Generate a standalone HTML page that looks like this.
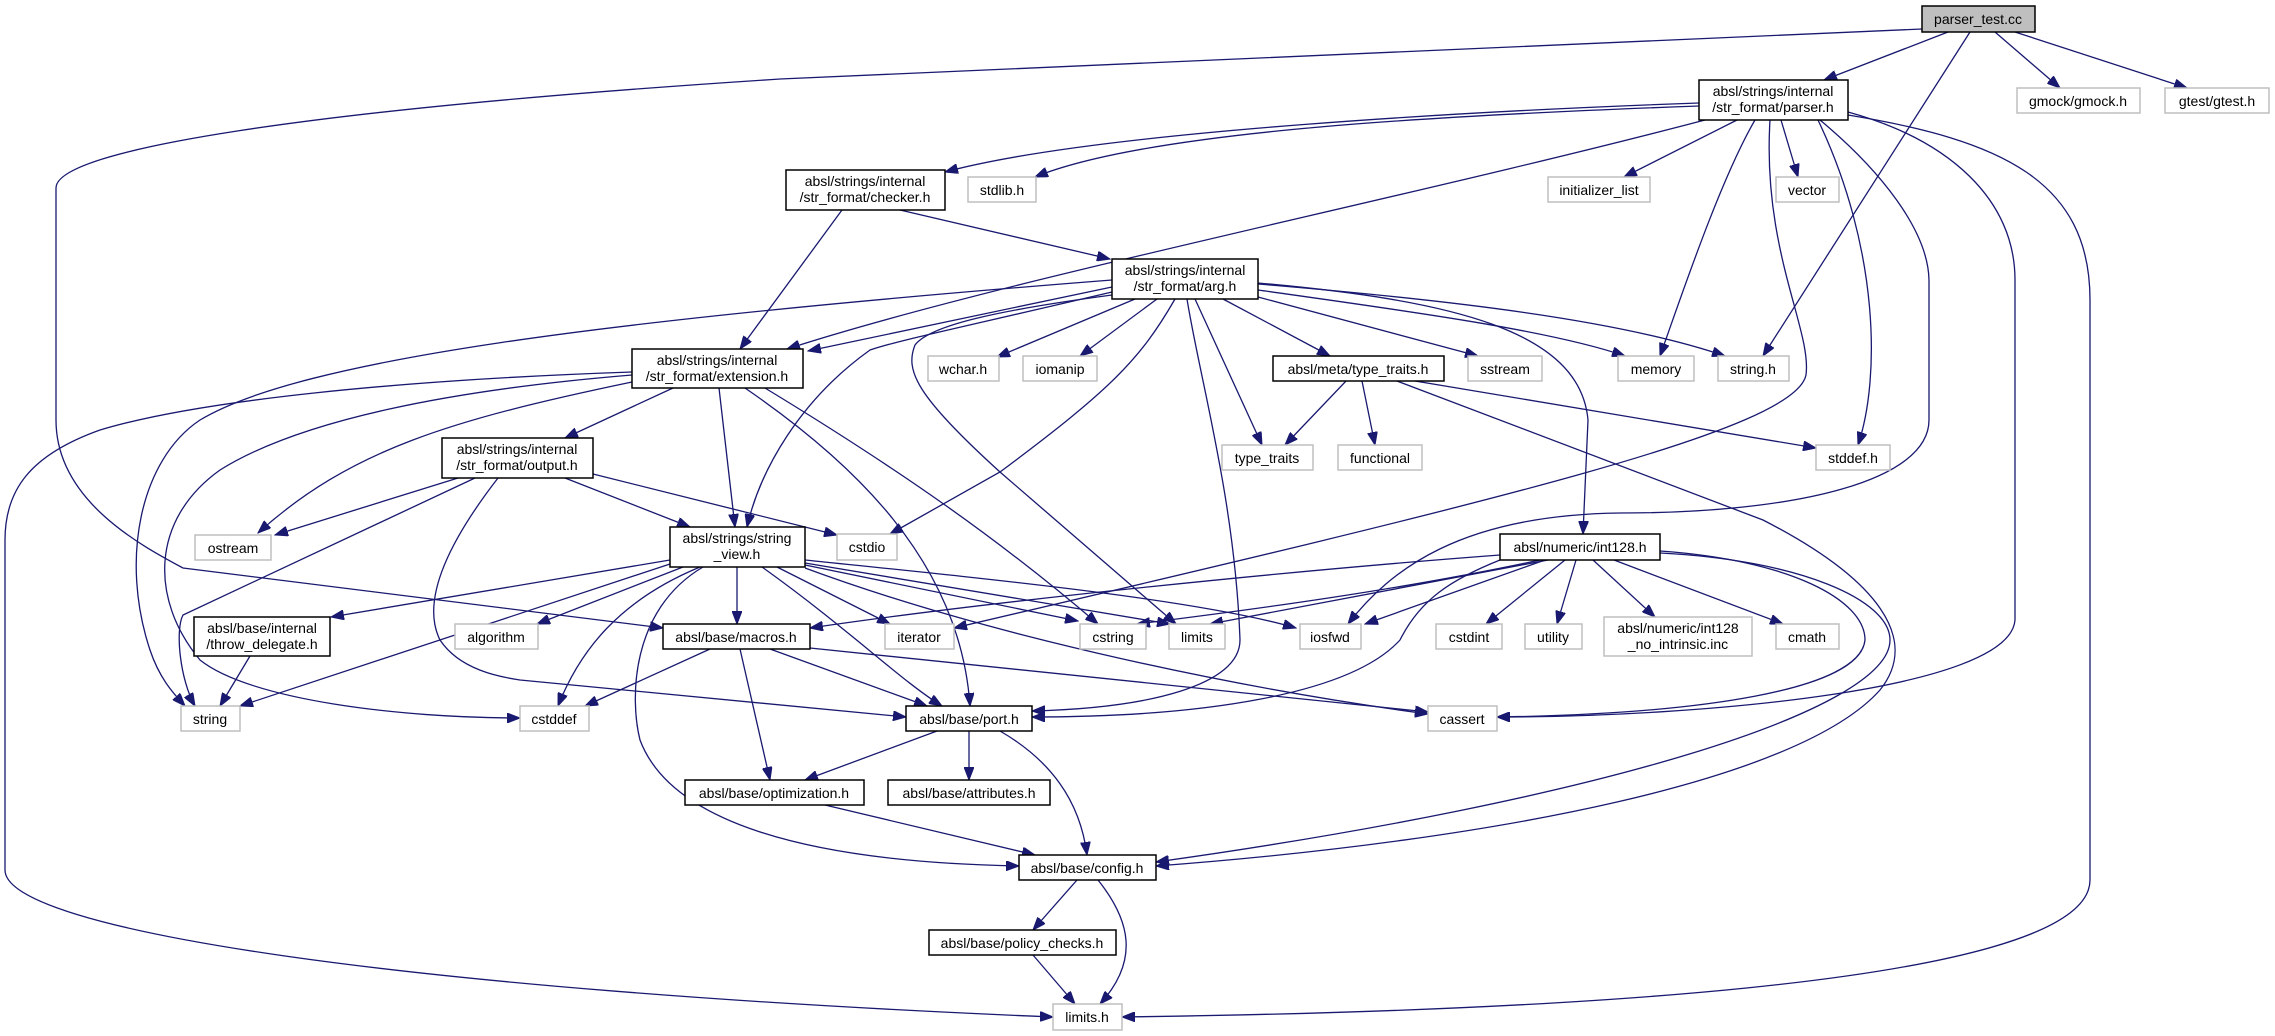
<!DOCTYPE html>
<html><head><meta charset="utf-8"><style>
html,body{margin:0;padding:0;background:#fff;}
svg{display:block;}
text{font-family:"Liberation Sans","DejaVu Sans",sans-serif;font-size:14px;fill:#000;text-anchor:middle;}
.e{fill:none;stroke:#191970;stroke-width:1.3;marker-end:url(#a);}
.d{fill:#fff;stroke:#000;stroke-width:1.5;}
.g{fill:#fff;stroke:#bfbfbf;stroke-width:1.5;}
</style></head><body>
<svg width="2275" height="1036" viewBox="0 0 2275 1036" xmlns="http://www.w3.org/2000/svg">
<defs><marker id="a" markerUnits="userSpaceOnUse" markerWidth="14" markerHeight="10" refX="13" refY="5" orient="auto"><path d="M0,0 L13,5 L0,10 z" fill="#191970" stroke="#191970"/></marker></defs>
<!-- edges -->
<path class="e" d="M1948,32 L1824,80"/>
<path class="e" d="M1995,32 L2060,88"/>
<path class="e" d="M2015,32 L2187,88"/>
<path class="e" d="M1970,32 L1763,356"/>
<path class="e" d="M1922,29 L780,79 C300,110 56,150 56,188 L56,420 C56,500 140,545 183,568 L663,628"/>
<path class="e" d="M1699,103 C1500,110 1100,130 945,172"/>
<path class="e" d="M1699,106 C1450,115 1150,130 1035,177"/>
<path class="e" d="M1705,120 C1400,200 1000,280 787,349"/>
<path class="e" d="M1737,120 L1624,177"/>
<path class="e" d="M1781,120 L1798,177"/>
<path class="e" d="M1755,120 C1720,180 1680,300 1660,356"/>
<path class="e" d="M1770,120 C1762,250 1812,330 1806,375 C1795,430 1500,500 954,628"/>
<path class="e" d="M1818,120 C1880,250 1880,380 1858,445"/>
<path class="e" d="M1820,120 C1880,170 1928,230 1929,280 L1929,420 C1929,480 1800,513 1620,513 C1460,515 1390,570 1348,624"/>
<path class="e" d="M1848,112 C1950,140 2015,200 2015,280 L2015,620 C2010,690 1700,717 1497,717"/>
<path class="e" d="M1848,115 C2000,140 2090,180 2090,300 L2090,880 C2090,990 1500,1012 1122,1017"/>
<path class="e" d="M842,210 L740,349"/>
<path class="e" d="M900,210 L1110,259"/>
<path class="e" d="M1112,280 C600,320 300,360 200,420 C140,460 120,560 150,650 C160,680 175,695 185,706"/>
<path class="e" d="M1112,287 L808,351"/>
<path class="e" d="M1112,292 C950,330 900,340 870,350 C800,400 760,470 747,527"/>
<path class="e" d="M1135,299 L997,357"/>
<path class="e" d="M1157,299 L1080,356"/>
<path class="e" d="M1175,299 C1140,360 1110,390 1000,472 L890,534"/>
<path class="e" d="M1112,295 C1000,310 930,325 915,345 C905,370 915,395 1000,472 L1176,624"/>
<path class="e" d="M1187,299 C1200,380 1235,500 1240,640 C1240,685 1150,708 1032,711"/>
<path class="e" d="M1195,299 L1262,445"/>
<path class="e" d="M1223,299 L1330,356"/>
<path class="e" d="M1258,297 L1478,356"/>
<path class="e" d="M1258,290 C1400,310 1550,330 1625,356"/>
<path class="e" d="M1258,284 C1450,300 1620,320 1725,356"/>
<path class="e" d="M1258,283 C1450,300 1580,330 1588,420 L1583,534"/>
<path class="e" d="M1346,381 L1285,445"/>
<path class="e" d="M1362,381 L1375,445"/>
<path class="e" d="M1415,381 L1816,448"/>
<path class="e" d="M1397,381 L1763,520 C1880,580 1920,640 1880,690 C1800,780 1500,840 1156,866"/>
<path class="e" d="M1660,553 C1800,560 1890,600 1890,640 C1890,710 1600,800 1156,862"/>
<path class="e" d="M1660,551 C1790,560 1865,600 1865,640 C1860,690 1700,714 1497,717"/>
<path class="e" d="M1500,555 C1300,570 1000,600 810,628"/>
<path class="e" d="M1540,560 C1400,590 1250,610 1137,624"/>
<path class="e" d="M1548,560 L1210,624"/>
<path class="e" d="M1545,560 L1365,624"/>
<path class="e" d="M1565,560 L1486,624"/>
<path class="e" d="M1576,560 L1557,624"/>
<path class="e" d="M1593,560 L1655,617"/>
<path class="e" d="M1614,560 L1783,624"/>
<path class="e" d="M1500,560 C1450,580 1420,600 1400,640 C1350,695 1200,717 1032,717"/>
<path class="e" d="M670,560 L331,617"/>
<path class="e" d="M683,567 L537,624"/>
<path class="e" d="M670,564 L240,706"/>
<path class="e" d="M700,567 C620,600 580,650 558,706"/>
<path class="e" d="M737,567 L737,624"/>
<path class="e" d="M762,567 C850,630 900,680 942,706"/>
<path class="e" d="M777,567 L890,624"/>
<path class="e" d="M805,565 L1078,621"/>
<path class="e" d="M805,563 L1170,624"/>
<path class="e" d="M805,560 C1000,580 1200,600 1296,628"/>
<path class="e" d="M805,568 C1000,640 1250,690 1428,714"/>
<path class="e" d="M703,567 C630,610 630,700 640,740 C670,820 800,862 1019,866"/>
<path class="e" d="M673,388 L565,438"/>
<path class="e" d="M719,388 L735,527"/>
<path class="e" d="M765,388 C900,470 1000,540 1098,624"/>
<path class="e" d="M745,388 C850,460 960,560 970,706"/>
<path class="e" d="M632,382 C450,420 350,450 258,533"/>
<path class="e" d="M632,375 C450,390 300,420 220,470 C150,520 150,600 200,660 C250,700 400,718 520,718"/>
<path class="e" d="M632,372 C400,380 200,400 100,430 C30,455 5,490 5,540 L5,870 C5,930 400,990 1053,1017"/>
<path class="e" d="M458,478 L275,535"/>
<path class="e" d="M565,478 L690,527"/>
<path class="e" d="M593,474 L837,535"/>
<path class="e" d="M498,478 C450,540 420,600 440,640 C460,670 500,677 520,680 L906,717"/>
<path class="e" d="M475,478 L183,615 C175,630 180,680 195,706"/>
<path class="e" d="M250,656 L220,706"/>
<path class="e" d="M710,649 L585,706"/>
<path class="e" d="M740,649 L770,780"/>
<path class="e" d="M770,649 L927,706"/>
<path class="e" d="M810,648 L1428,712"/>
<path class="e" d="M937,731 L805,780"/>
<path class="e" d="M969,731 L969,780"/>
<path class="e" d="M1000,731 C1050,760 1080,800 1087,855"/>
<path class="e" d="M825,805 L1035,855"/>
<path class="e" d="M1077,880 L1033,930"/>
<path class="e" d="M1098,880 C1130,920 1140,960 1100,1004"/>
<path class="e" d="M1033,955 L1075,1004"/>
<!-- nodes -->
<rect x="1922" y="6" width="113" height="26" fill="#bfbfbf" stroke="#000" stroke-width="1.5"/><text x="1978" y="24">parser_test.cc</text>
<rect class="d" x="1699" y="80" width="149" height="40"/><text x="1773" y="96">absl/strings/internal</text><text x="1773" y="112">/str_format/parser.h</text>
<rect class="g" x="2017" y="88" width="123" height="25"/><text x="2078" y="106">gmock/gmock.h</text>
<rect class="g" x="2165" y="88" width="104" height="25"/><text x="2217" y="106">gtest/gtest.h</text>
<rect class="d" x="786" y="170" width="159" height="40"/><text x="865" y="186">absl/strings/internal</text><text x="865" y="202">/str_format/checker.h</text>
<rect class="g" x="968" y="177" width="68" height="25"/><text x="1002" y="195">stdlib.h</text>
<rect class="g" x="1548" y="177" width="102" height="25"/><text x="1599" y="195">initializer_list</text>
<rect class="g" x="1776" y="177" width="63" height="25"/><text x="1807" y="195">vector</text>
<rect class="d" x="1112" y="259" width="146" height="40"/><text x="1185" y="275">absl/strings/internal</text><text x="1185" y="291">/str_format/arg.h</text>
<rect class="d" x="632" y="349" width="171" height="39"/><text x="717" y="365">absl/strings/internal</text><text x="717" y="381">/str_format/extension.h</text>
<rect class="g" x="928" y="356" width="71" height="25"/><text x="963" y="374">wchar.h</text>
<rect class="g" x="1023" y="356" width="74" height="25"/><text x="1060" y="374">iomanip</text>
<rect class="d" x="1273" y="356" width="171" height="25"/><text x="1358" y="374">absl/meta/type_traits.h</text>
<rect class="g" x="1468" y="356" width="74" height="25"/><text x="1505" y="374">sstream</text>
<rect class="g" x="1618" y="356" width="76" height="25"/><text x="1656" y="374">memory</text>
<rect class="g" x="1718" y="356" width="71" height="25"/><text x="1753" y="374">string.h</text>
<rect class="d" x="442" y="438" width="151" height="40"/><text x="517" y="454">absl/strings/internal</text><text x="517" y="470">/str_format/output.h</text>
<rect class="g" x="1222" y="445" width="91" height="25"/><text x="1267" y="463">type_traits</text>
<rect class="g" x="1338" y="445" width="84" height="25"/><text x="1380" y="463">functional</text>
<rect class="g" x="1816" y="445" width="74" height="25"/><text x="1853" y="463">stddef.h</text>
<rect class="g" x="195" y="535" width="76" height="25"/><text x="233" y="553">ostream</text>
<rect class="d" x="670" y="527" width="135" height="40"/><text x="737" y="543">absl/strings/string</text><text x="737" y="559">_view.h</text>
<rect class="g" x="837" y="534" width="60" height="26"/><text x="867" y="552">cstdio</text>
<rect class="d" x="1500" y="534" width="160" height="26"/><text x="1580" y="552">absl/numeric/int128.h</text>
<rect class="d" x="194" y="617" width="136" height="39"/><text x="262" y="633">absl/base/internal</text><text x="262" y="649">/throw_delegate.h</text>
<rect class="g" x="455" y="624" width="83" height="25"/><text x="496" y="642">algorithm</text>
<rect class="d" x="663" y="624" width="147" height="25"/><text x="736" y="642">absl/base/macros.h</text>
<rect class="g" x="885" y="624" width="69" height="25"/><text x="919" y="642">iterator</text>
<rect class="g" x="1080" y="624" width="66" height="25"/><text x="1113" y="642">cstring</text>
<rect class="g" x="1169" y="624" width="56" height="25"/><text x="1197" y="642">limits</text>
<rect class="g" x="1300" y="624" width="61" height="25"/><text x="1330" y="642">iosfwd</text>
<rect class="g" x="1436" y="624" width="66" height="25"/><text x="1469" y="642">cstdint</text>
<rect class="g" x="1525" y="624" width="57" height="25"/><text x="1553" y="642">utility</text>
<rect class="g" x="1604" y="617" width="148" height="39"/><text x="1678" y="633">absl/numeric/int128</text><text x="1678" y="649">_no_intrinsic.inc</text>
<rect class="g" x="1776" y="624" width="63" height="25"/><text x="1807" y="642">cmath</text>
<rect class="g" x="181" y="706" width="59" height="25"/><text x="210" y="724">string</text>
<rect class="g" x="520" y="706" width="69" height="25"/><text x="554" y="724">cstddef</text>
<rect class="d" x="906" y="706" width="126" height="25"/><text x="969" y="724">absl/base/port.h</text>
<rect class="g" x="1428" y="706" width="69" height="25"/><text x="1462" y="724">cassert</text>
<rect class="d" x="685" y="780" width="179" height="25"/><text x="774" y="798">absl/base/optimization.h</text>
<rect class="d" x="888" y="780" width="162" height="25"/><text x="969" y="798">absl/base/attributes.h</text>
<rect class="d" x="1019" y="855" width="137" height="25"/><text x="1087" y="873">absl/base/config.h</text>
<rect class="d" x="929" y="930" width="187" height="25"/><text x="1022" y="948">absl/base/policy_checks.h</text>
<rect class="g" x="1053" y="1004" width="69" height="26"/><text x="1087" y="1022">limits.h</text>
</svg>
</body></html>
